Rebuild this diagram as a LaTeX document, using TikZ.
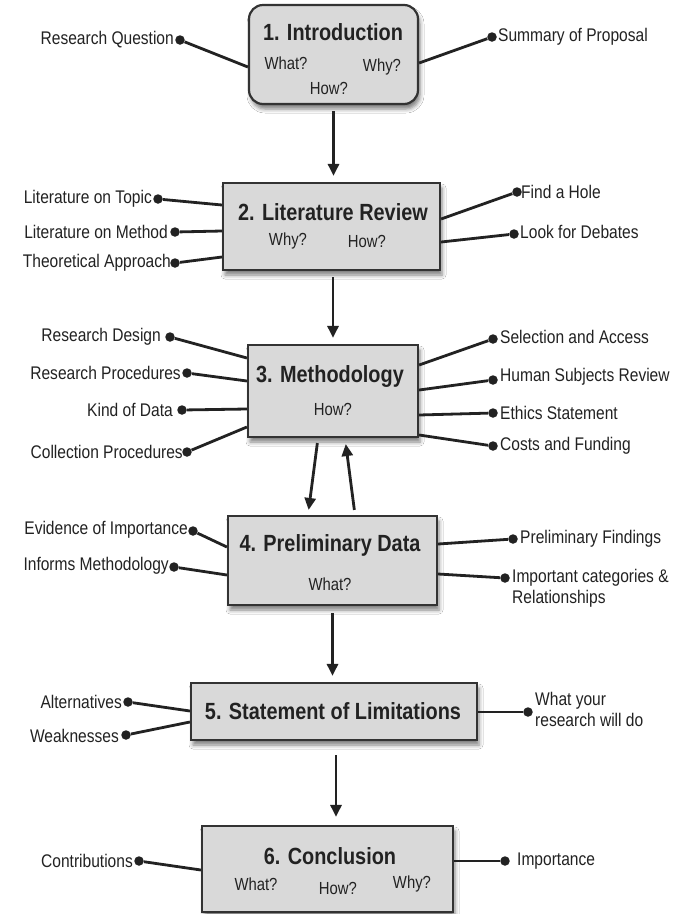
\documentclass[tikz,border=0pt]{standalone}
\usepackage{fontspec}
\setmainfont{Liberation Sans}[FakeStretch=0.85]
\usetikzlibrary{arrows.meta,shadows.blur}
\definecolor{ink}{HTML}{222222}
\definecolor{boxfill}{HTML}{D9D9D9}
\definecolor{boxline}{HTML}{333333}
\tikzset{
  box/.style={draw=boxline, line width=2.2pt, fill=boxfill, inner sep=0pt,
    blur shadow={shadow xshift=2pt, shadow yshift=-5pt, shadow blur radius=4pt, shadow opacity=50}},
  ttl/.style={inner sep=0pt, text=ink, font=\fontsize{23.4}{26}\selectfont\bfseries},
  sub/.style={inner sep=0pt, text=ink, font=\fontsize{17.5}{19}\selectfont},
  lbl/.style={inner sep=0pt, text=ink, font=\fontsize{18.3}{21}\selectfont, align=left},
  lblL/.style={lbl, anchor=east},
  lblR/.style={lbl, anchor=west},
  dot/.style={circle, fill=ink, inner sep=0pt, minimum size=9.5pt},
  conn/.style={draw=ink, line width=2.8pt},
  flow/.style={draw=ink, line width=2.8pt, -{Triangle[length=12pt,width=11pt]}, shorten <=6pt, shorten >=6pt}
}
\begin{document}
\begin{tikzpicture}[x=1pt,y=-1pt]
\useasboundingbox[fill=white] (0,0) rectangle (681,914);

% ---------- boxes ----------
\node[box, rounded corners=14pt, minimum width=169pt, minimum height=99pt] (b1) at (333.5,54.5) {};
\node[box, minimum width=217pt, minimum height=87pt] (b2) at (331.5,226.5) {};
\node[box, minimum width=170pt, minimum height=92pt] (b3) at (333,391) {};
\node[box, minimum width=209pt, minimum height=89pt] (b4) at (332.5,560.5) {};
\node[box, minimum width=286pt, minimum height=57pt] (b5) at (334,711.5) {};
\node[box, minimum width=251pt, minimum height=86pt] (b6) at (327.5,869) {};

% ---------- box texts ----------
\node[ttl] (t1) at (333,32) {1. Introduction};
\node[sub] (s1a) at (286,63) {What?};
\node[sub] (s1b) at (382,67) {Why?};
\node[sub] (s1c) at (329,88) {How?};

\node[ttl] (t2) at (333,212) {2. Literature Review};
\node[sub] (s2a) at (288,241) {Why?};
\node[sub] (s2b) at (367,241) {How?};

\node[ttl] (t3) at (330,376) {3. Methodology};
\node[sub] (s3a) at (333,409) {How?};

\node[ttl] (t4) at (330,545) {4. Preliminary Data};
\node[sub] (s4a) at (330,584) {What?};

\node[ttl] (t5) at (333,711) {5. Statement of Limitations};

\node[ttl] (t6) at (330,856) {6. Conclusion};
\node[sub] (s6a) at (256,884) {What?};
\node[sub] (s6b) at (338,888) {How?};
\node[sub] (s6c) at (412,884) {Why?};

% ---------- flow arrows ----------
\draw[flow] (b1.south) -- (b1.south |- b2.north);
\draw[flow] (b3.north |- b2.south) -- (b3.north);
\draw[flow, shorten <=5pt, shorten >=5pt] ([xshift=-15pt]b3.south) -- ([xshift=-24.5pt]b4.north);
\draw[flow, shorten <=5pt, shorten >=6pt] ([xshift=22.5pt]b4.north) -- ([xshift=12pt]b3.south);
\draw[flow, shorten <=7pt] (b4.south) -- (b4.south |- b5.north);
\draw[flow, shorten <=14pt, shorten >=8pt] ([xshift=2pt]b5.south) -- ([xshift=2pt]b5.south |- b6.north);

% ---------- box 1 spokes ----------
\node[dot] (d1a) at (180,40) {};
\node[lblL] (l1a) at (174,40) {Research Question};
\draw[conn] (d1a) -- ([yshift=-12.5pt]b1.west);
\node[dot] (d1b) at (492,37) {};
\node[lblR] (l1b) at (498,37) {Summary of Proposal};
\draw[conn] (d1b) -- ([yshift=-8.5pt]b1.east);

% ---------- box 2 spokes ----------
\node[dot] (d2a) at (158,199) {};
\node[lblL] (l2a) at (152,199) {Literature on Topic};
\draw[conn] (d2a) -- ([yshift=21.5pt]b2.west);
\node[dot] (d2b) at (175,232) {};
\node[lblL] (l2b) at (168,232) {Literature on Method};
\draw[conn] (d2b) -- ([yshift=-4.5pt]b2.west);
\node[dot] (d2c) at (175,263) {};
\node[lblL] (l2c) at (171,263) {Theoretical Approach};
\draw[conn] (d2c) -- ([yshift=-30.5pt]b2.west);
\node[dot] (d2d) at (517,192) {};
\node[lblR] (l2d) at (521,192) {Find a Hole};
\draw[conn] (d2d) -- ([yshift=7.5pt]b2.east);
\node[dot] (d2e) at (514,234) {};
\node[lblR] (l2e) at (520,232) {Look for Debates};
\draw[conn] (d2e) -- ([yshift=-15.5pt]b2.east);

% ---------- box 3 spokes ----------
\node[dot] (d3a) at (170,337) {};
\node[lblL] (l3a) at (161,337) {Research Design};
\draw[conn] (d3a) -- ([yshift=33pt]b3.west);
\node[dot] (d3b) at (187,373) {};
\node[lblL] (l3b) at (181,373) {Research Procedures};
\draw[conn] (d3b) -- ([yshift=10pt]b3.west);
\node[dot] (d3c) at (182,410) {};
\node[lblL] (l3c) at (173,410) {Kind of Data};
\draw[conn] (d3c) -- ([yshift=-18pt]b3.west);
\node[dot] (d3d) at (187,452) {};
\node[lblL] (l3d) at (183,452) {Collection Procedures};
\draw[conn] (d3d) -- ([yshift=-36pt]b3.west);
\node[dot] (d3e) at (493,339) {};
\node[lblR] (l3e) at (500,337) {Selection and Access};
\draw[conn] (d3e) -- ([yshift=26pt]b3.east);
\node[dot] (d3f) at (493,380) {};
\node[lblR] (l3f) at (500,377) {Human Subjects Review};
\draw[conn] (d3f) -- ([yshift=1pt]b3.east);
\node[dot] (d3g) at (493,413) {};
\node[lblR] (l3g) at (500,413) {Ethics Statement};
\draw[conn] (d3g) -- ([yshift=-24pt]b3.east);
\node[dot] (d3h) at (493,446) {};
\node[lblR] (l3h) at (500,446) {Costs and Funding};
\draw[conn] (d3h) -- ([yshift=-44pt]b3.east);

% ---------- box 4 spokes ----------
\node[dot] (d4a) at (193,531) {};
\node[lblL] (l4a) at (188,530) {Evidence of Importance};
\draw[conn] (d4a) -- ([yshift=13.5pt]b4.west);
\node[dot] (d4b) at (174,567) {};
\node[lblL] (l4b) at (169,566) {Informs Methodology};
\draw[conn] (d4b) -- ([yshift=-14.5pt]b4.west);
\node[dot] (d4c) at (513,539) {};
\node[lblR] (l4c) at (520,539) {Preliminary Findings};
\draw[conn] (d4c) -- ([yshift=16.5pt]b4.east);
\node[dot] (d4d) at (505,578) {};
\node[lblR] (l4d) at (512,588) {Important categories \&\\Relationships};
\draw[conn] (d4d) -- ([yshift=-13.5pt]b4.east);

% ---------- box 5 spokes ----------
\node[dot] (d5a) at (128,702) {};
\node[lblL] (l5a) at (122,702) {Alternatives};
\draw[conn] (d5a) -- ([yshift=0.5pt]b5.west);
\node[dot] (d5b) at (126,735) {};
\node[lblL] (l5b) at (119,736) {Weaknesses};
\draw[conn] (d5b) -- ([yshift=-10.5pt]b5.west);
\node[dot] (d5c) at (528,712) {};
\node[lblR] (l5c) at (535,709) {What your\\research will do};
\draw[conn] (d5c) -- ([yshift=-0.5pt]b5.east);

% ---------- box 6 spokes ----------
\node[dot] (d6a) at (139,861) {};
\node[lblL] (l6a) at (133,861) {Contributions};
\draw[conn] (d6a) -- ([yshift=-1pt]b6.west);
\node[dot] (d6b) at (505,861) {};
\node[lblR] (l6b) at (517,861) {Importance};
\draw[conn] (d6b) -- ([yshift=8pt]b6.east);
\end{tikzpicture}
\end{document}
